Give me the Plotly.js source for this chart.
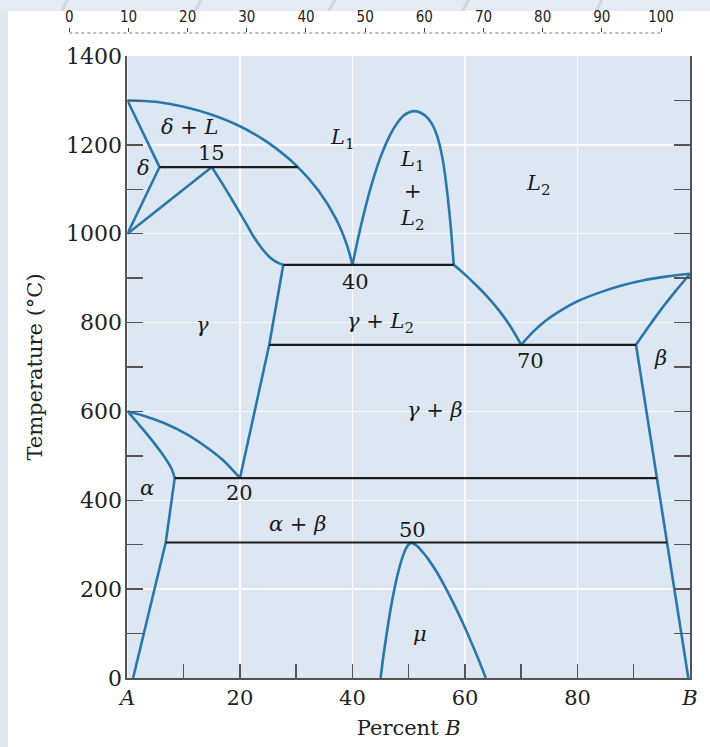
<!DOCTYPE html>
<html>
<head>
<meta charset="utf-8">
<script src="https://cdn.plot.ly/plotly-3.0.1.min.js"></script>
<style>
  html, body { margin: 0; padding: 0; }
  body { width: 710px; height: 747px; position: relative; overflow: hidden; background: #dfe7f0; }
  #band { position: absolute; left: 0; top: 0; width: 710px; height: 11px;
          background: repeating-linear-gradient(118deg, #e4ebf2 0 58px, #cdd8e3 58px 61px, #e4ebf2 61px 118px); }
  #sheet { position: absolute; left: 8px; top: 11px; right: 0; bottom: 0; background: #ffffff; }
  #chart { position: absolute; left: 0; top: 0; width: 710px; height: 747px; }
</style>
</head>
<body>
<div id="band"></div>
<div id="sheet"></div>
<div id="chart"></div>
<script>
// Hypothetical binary A–B phase diagram: composition in % B, temperature in °C.

// Liquidus of L1 from the melting point of A to the eutectic at 40 % B
const liqL1X = [0, 5, 10, 15, 20, 25, 30.3, 34, 37, 39, 40];
const liqL1T = [1300, 1297, 1286, 1268, 1242, 1205, 1150, 1096, 1035, 975, 930];

// L1 + L2 miscibility dome
const domeX = [40, 41, 42, 43, 44, 45, 46, 47, 48, 49, 50, 51, 52, 53, 54, 55, 56, 56.5, 57, 57.5, 58];
const domeT = [930, 990, 1044, 1093, 1136, 1173, 1204, 1230, 1250, 1265, 1273, 1276, 1273, 1265, 1250, 1222, 1170, 1128, 1075, 1011, 930];

// L2 liquidus, both branches meeting at the eutectic at 70 % B
const liqL2LeftX = [58, 60, 62, 64, 66, 68, 70];
const liqL2LeftT = [930, 908, 884, 858, 828, 793, 750];
const liqL2RightX = [70, 72, 74, 77, 80, 84, 88, 92, 96, 100];
const liqL2RightT = [750, 778, 801, 827, 848, 868, 884, 896, 904, 910];

// beta solidus and solvus
const betaSolidusX = [100, 97.5, 95, 92.6, 90.4];
const betaSolidusT = [910, 872, 832, 790, 750];
const betaSolvusX = [90.4, 94.1, 95.9, 99.7];
const betaSolvusT = [750, 450, 305, 0];

// delta field at the A side
const deltaX = [0, 5.7, 0];
const deltaT = [1300, 1150, 1000];
const gammaDeltaX = [0, 15];
const gammaDeltaT = [1000, 1150];

// gamma field boundaries
const gammaTopX = [15, 17, 19, 21, 22.5, 24, 25.5, 26.7, 27.7];
const gammaTopT = [1150, 1110, 1068, 1025, 992, 965, 945, 935, 930];
const gammaRightX = [27.7, 25.2, 20];
const gammaRightT = [930, 750, 450];
const gammaLowX = [0, 3, 6.5, 10.5, 14, 17, 20];
const gammaLowT = [600, 590, 574, 549, 520, 490, 450];

// alpha field boundaries
const alphaTopX = [0, 2.2, 4.6, 6.6, 7.8, 8.4];
const alphaTopT = [600, 568, 531, 497, 472, 450];
const alphaSolvusX = [8.4, 6.8, 1];
const alphaSolvusT = [450, 305, 0];

// mu intermediate phase, forming at 50 % B
const muLeftX = [45, 45.5, 46, 46.5, 47, 47.5, 48, 48.5, 49, 49.5, 50, 50.5];
const muLeftT = [0, 50, 93, 134, 171, 203, 232, 256, 276, 291, 301, 305];
const muRightX = [50.5, 51.5, 52.5, 53.5, 55, 56.5, 58, 59.5, 61, 62.5, 63.7];
const muRightT = [305, 297, 283, 267, 238, 204, 167, 127, 84, 39, 0];

// Invariant isotherms: temperature and the two end compositions
const isoT = [1150, 930, 750, 450, 305];
const isoFrom = [5.7, 27.7, 25.2, 8.4, 6.8];
const isoTo = [30.3, 58, 90.4, 94.1, 95.9];

// Field and point labels (subscripts shifted with baseline-shift)
const SUB1 = '<span style="font-size:15px;baseline-shift:-5px">1</span>';
const SUB2 = '<span style="font-size:15px;baseline-shift:-5px">2</span>';
const labelText = ['<i>δ</i> + <i>L</i>', '<i>δ</i>', '15', '<i>L</i>' + SUB1,
  '<i>L</i>' + SUB1, '+', '<i>L</i>' + SUB2, '<i>L</i>' + SUB2, '40',
  '<i>γ</i>', '<i>γ</i> + <i>L</i>' + SUB2, '70', '<i>β</i>', '<i>γ</i> + <i>β</i>',
  '<i>α</i>', '20', '<i>α</i> + <i>β</i>', '50', '<i>μ</i>'];
const labelX = [11.1, 2.8, 15, 38.3, 50.7, 50.7, 50.7, 73, 40.6, 13.4, 44.9, 71.6, 94.7, 54.7, 3.5, 20, 30.3, 50.6, 52];
const labelT = [1240, 1148, 1182, 1213, 1163, 1096, 1031, 1110, 891, 795, 799, 713, 720, 603, 428, 416, 347, 333, 99];

// Axis tick labels
const xTickVals = [0, 20, 40, 60, 80, 100];
const xTickText = ['<i>A</i>', '20', '40', '60', '80', '<i>B</i>'];
const xMinorVals = [10, 30, 50, 70, 90];
const yTickVals = [0, 200, 400, 600, 800, 1000, 1200, 1400];
const yMinorVals = [100, 300, 500, 700, 900, 1100, 1300];
const rulerVals = [0, 10, 20, 30, 40, 50, 60, 70, 80, 90, 100];

const BLUE = '#2a77a8';
const INK = '#1c1c1c';
const SERIF = 'DejaVu Serif, Liberation Serif, serif';

function curve(x, y, smooth) {
  return {
    x: x, y: y, type: 'scatter', mode: 'lines',
    line: { color: BLUE, width: 2.6, shape: smooth ? 'spline' : 'linear', smoothing: 0.8 },
    hoverinfo: 'skip', showlegend: false
  };
}

const traces = [
  curve(liqL1X, liqL1T, true),
  curve(domeX, domeT, true),
  curve(liqL2LeftX, liqL2LeftT, true),
  curve(liqL2RightX, liqL2RightT, true),
  curve(betaSolidusX, betaSolidusT, true),
  curve(betaSolvusX, betaSolvusT, false),
  curve(deltaX, deltaT, false),
  curve(gammaDeltaX, gammaDeltaT, false),
  curve(gammaTopX, gammaTopT, true),
  curve(gammaRightX, gammaRightT, false),
  curve(gammaLowX, gammaLowT, true),
  curve(alphaTopX, alphaTopT, true),
  curve(alphaSolvusX, alphaSolvusT, false),
  curve(muLeftX, muLeftT, true),
  curve(muRightX, muRightT, true)
];

// Invariant tie lines drawn in black
isoT.forEach(function (t, i) {
  traces.push({
    x: [isoFrom[i], isoTo[i]], y: [t, t], type: 'scatter', mode: 'lines',
    line: { color: INK, width: 2.2 }, hoverinfo: 'skip', showlegend: false
  });
});

// Empty trace that brings the percentage ruler axis into existence
traces.push({ x: [0, 100], y: [null, null], xaxis: 'x2', yaxis: 'y2', type: 'scatter',
  mode: 'lines', hoverinfo: 'skip', showlegend: false });

const annotations = labelText.map(function (t, i) {
  return {
    x: labelX[i], y: labelT[i], xref: 'x', yref: 'y', text: t, showarrow: false,
    font: { family: SERIF, size: 21, color: '#1a1a1a' }
  };
});

const axisGrey = '#555555';

const layout = {
  width: 710, height: 747,
  margin: { l: 60, r: 20, t: 33, b: 69 },
  paper_bgcolor: 'rgba(0,0,0,0)',
  plot_bgcolor: 'rgba(0,0,0,0)',
  showlegend: false,
  xaxis: {
    domain: [0.1071, 1], range: [0, 100], anchor: 'y',
    tickmode: 'array', tickvals: xTickVals, ticktext: xTickText,
    ticks: 'inside', ticklen: 14, tickwidth: 1.5, tickcolor: axisGrey,
    minor: { tickvals: xMinorVals, ticks: 'inside', ticklen: 14, tickwidth: 1.5, tickcolor: axisGrey, showgrid: false },
    showline: true, linecolor: axisGrey, linewidth: 2, mirror: false,
    showgrid: true, gridcolor: 'rgba(255,255,255,0.8)', gridwidth: 1.5, zeroline: false,
    tickfont: { family: SERIF, size: 21, color: '#222' },
    title: { text: 'Percent <i>B</i>', font: { family: SERIF, size: 21, color: '#222' }, standoff: 11 }
  },
  yaxis: {
    domain: [0, 0.9643], range: [0, 1400], anchor: 'x',
    tickmode: 'array', tickvals: yTickVals,
    ticks: 'inside', ticklen: 16, tickwidth: 1.5, tickcolor: axisGrey,
    minor: { tickvals: yMinorVals, ticks: 'inside', ticklen: 16, tickwidth: 1.5, tickcolor: axisGrey, showgrid: false },
    showline: true, linecolor: axisGrey, linewidth: 2, mirror: 'ticks',
    showgrid: true, gridcolor: 'rgba(255,255,255,0.8)', gridwidth: 1.5, zeroline: false,
    ticklabelstandoff: -1,
    tickfont: { family: SERIF, size: 22, color: '#222' },
    title: { text: 'Temperature (°C)', font: { family: SERIF, size: 21, color: '#222' }, standoff: 18 }
  },
  // percentage ruler printed above the figure
  xaxis2: {
    domain: [0.01476, 0.954], range: [0, 100], anchor: 'y2', side: 'top',
    tickmode: 'array', tickvals: rulerVals,
    ticks: 'outside', ticklen: 4, tickwidth: 1, tickcolor: '#444',
    showline: false, showgrid: false, zeroline: false,
    tickfont: { family: 'Liberation Sans Narrow, DejaVu Sans Condensed, Liberation Sans, sans-serif', size: 15, color: '#222' }
  },
  yaxis2: { domain: [0.995, 1], range: [0, 1], anchor: 'x2', visible: false },
  shapes: [
    { type: 'rect', xref: 'x domain', yref: 'y domain', x0: 0, x1: 1, y0: 0, y1: 1,
      fillcolor: '#dce7f3', line: { width: 0 }, layer: 'below' },
    { type: 'line', xref: 'x2', yref: 'paper', x0: 0, x1: 100, y0: 1, y1: 1,
      line: { color: '#777', width: 1, dash: 'dot' } }
  ],
  annotations: annotations
};

Plotly.newPlot('chart', traces, layout, { staticPlot: true, displayModeBar: false });
</script>
</body>
</html>
